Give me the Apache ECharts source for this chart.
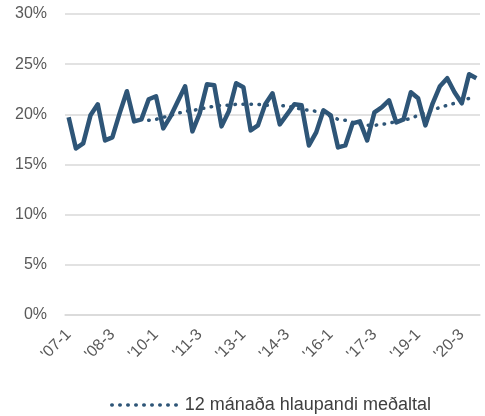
<!DOCTYPE html>
<html>
<head>
<meta charset="utf-8">
<script src="https://cdn.jsdelivr.net/npm/echarts@6/dist/echarts.min.js"></script>
<style>
  html, body { margin: 0; padding: 0; background: #fff; }
  #chart { width: 485px; height: 416px; }
</style>
</head>
<body>
<div id="chart"></div>
<script>
// ársfjórðungar '07-1 .. '21-1
var quarters = [
  "'07-1", "'07-2", "'07-3", "'07-4", "'08-1", "'08-2", "'08-3", "'08-4",
  "'09-1", "'09-2", "'09-3", "'09-4", "'10-1", "'10-2", "'10-3", "'10-4",
  "'11-1", "'11-2", "'11-3", "'11-4", "'12-1", "'12-2", "'12-3", "'12-4",
  "'13-1", "'13-2", "'13-3", "'13-4", "'14-1", "'14-2", "'14-3", "'14-4",
  "'15-1", "'15-2", "'15-3", "'15-4", "'16-1", "'16-2", "'16-3", "'16-4",
  "'17-1", "'17-2", "'17-3", "'17-4", "'18-1", "'18-2", "'18-3", "'18-4",
  "'19-1", "'19-2", "'19-3", "'19-4", "'20-1", "'20-2", "'20-3", "'20-4",
  "'21-1"
];

// hlutfall á hverjum ársfjórðungi (%)
var quarterly = [
  19.7, 16.6, 17.1, 19.9, 21.0, 17.4, 17.7, 20.1,
  22.3, 19.3, 19.5, 21.5, 21.8, 18.6, 19.8, 21.3,
  22.8, 18.3, 20.1, 23.0, 22.9, 18.8, 20.3, 23.1,
  22.7, 18.4, 18.9, 21.0, 22.1, 19.0, 20.0, 21.0,
  20.9, 16.9, 18.2, 20.4, 19.9, 16.7, 16.9, 19.1,
  19.3, 17.4, 20.2, 20.7, 21.4, 19.2, 19.5, 22.2,
  21.6, 18.9, 21.1, 22.8, 23.6, 22.2, 21.1, 24.0,
  23.6
];

// 12 mánaða hlaupandi meðaltal (byrjar '09-4)
var rolling = [
  null, null, null, null, null, null, null, null,
  null, null, null, 19.4, 19.5, 19.7, 19.9, 20.1,
  20.3, 20.4, 20.5, 20.7, 20.8, 20.9, 20.9, 21.0,
  21.0, 21.0, 21.0, 20.9, 20.9, 20.9, 20.8, 20.7,
  20.5, 20.4, 20.3, 20.1, 19.8, 19.5, 19.4, 19.2,
  19.0, 18.9, 18.9, 19.0, 19.1, 19.3, 19.4, 19.6,
  19.9, 20.2, 20.4, 20.7, 20.9, 21.1, 21.3, 21.6,
  null
];

var lineColor = '#2e5577';
var textColor = '#595959';
var font = 'Liberation Sans';
var dotted = { color: lineColor, width: 3.5, type: [0.5, 7.5], cap: 'round' };

var chart = echarts.init(document.getElementById('chart'), null, { renderer: 'canvas' });

var option = {
  animation: false,
  grid: {
    left: 65,
    right: 5,
    top: 14,
    bottom: 101
  },
  legend: {
    data: ['12 mánaða hlaupandi meðaltal'],
    left: 110,
    bottom: 2,
    padding: 0,
    itemWidth: 68,
    itemHeight: 14,
    itemGap: 6,
    itemStyle: { opacity: 0 },
    lineStyle: dotted,
    textStyle: {
      color: '#404040',
      fontSize: 18,
      fontFamily: font
    }
  },
  xAxis: {
    type: 'category',
    data: quarters,
    boundaryGap: true,
    axisLine: { lineStyle: { color: '#d9d9d9', width: 1.5 } },
    axisTick: { show: false },
    axisLabel: {
      interval: 5,
      rotate: 45,
      margin: 17,
      color: textColor,
      fontSize: 16,
      fontFamily: font
    }
  },
  yAxis: {
    type: 'value',
    min: 0,
    max: 30,
    interval: 5,
    axisLine: { show: false },
    axisTick: { show: false },
    splitLine: { lineStyle: { color: '#d9d9d9', width: 1.5 } },
    axisLabel: {
      formatter: '{value}%',
      margin: 18,
      color: textColor,
      fontSize: 16,
      fontFamily: font
    }
  },
  series: [
    {
      name: 'Hlutfall',
      type: 'line',
      data: quarterly,
      symbol: 'none',
      lineStyle: { color: lineColor, width: 4.5, join: 'round' },
      itemStyle: { color: lineColor },
      z: 3
    },
    {
      name: '12 mánaða hlaupandi meðaltal',
      type: 'line',
      data: rolling,
      symbol: 'none',
      lineStyle: dotted,
      itemStyle: { color: lineColor },
      z: 2
    }
  ]
};

chart.setOption(option);
</script>
</body>
</html>
